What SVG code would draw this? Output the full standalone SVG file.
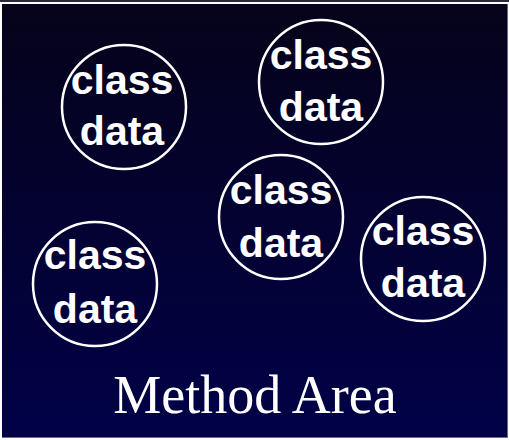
<svg xmlns="http://www.w3.org/2000/svg" width="509" height="440" viewBox="0 0 509 440">
  <defs>
    <linearGradient id="bg" x1="0" y1="0" x2="0" y2="1">
      <stop offset="0" stop-color="#06031a"/>
      <stop offset="1" stop-color="#010148"/>
    </linearGradient>
  </defs>
  <style>
    .node circle { fill: none; stroke: #ffffff; stroke-width: 2.5; }
    .node text { fill: #ffffff; font-family: "Liberation Sans", Arial, sans-serif; font-weight: bold; font-size: 41px; text-anchor: middle; }
    .title { fill: #ffffff; font-family: "Liberation Serif", "Times New Roman", serif; font-size: 54px; text-anchor: middle; }
  </style>
  <rect x="0" y="0" width="509" height="440" fill="#ffffff"/>
  <rect x="0" y="0" width="509" height="2" fill="#2a2838"/>
  <rect x="2" y="4" width="506" height="433" fill="url(#bg)"/>
  <line x1="507.5" y1="4" x2="507.5" y2="437" stroke="#6a6890" stroke-width="1"/>
  <line x1="2" y1="437.5" x2="508" y2="437.5" stroke="#6a6a98" stroke-width="1"/>
  <g id="connectors"></g>
  <g id="node1" class="node">
    <circle cx="124" cy="107" r="62"/>
    <text x="122" y="94">class</text>
    <text x="122" y="145">data</text>
  </g>
  <g id="node2" class="node">
    <circle cx="321" cy="82" r="62"/>
    <text x="321" y="69">class</text>
    <text x="321" y="121">data</text>
  </g>
  <g id="node3" class="node">
    <circle cx="281" cy="217" r="62"/>
    <text x="281" y="204">class</text>
    <text x="281" y="257">data</text>
  </g>
  <g id="node4" class="node">
    <circle cx="95" cy="284" r="62"/>
    <text x="95" y="269">class</text>
    <text x="95" y="323">data</text>
  </g>
  <g id="node5" class="node">
    <circle cx="423" cy="259" r="62"/>
    <text x="423" y="245">class</text>
    <text x="423" y="297">data</text>
  </g>
  <text class="title" x="255" y="413">Method Area</text>
</svg>
